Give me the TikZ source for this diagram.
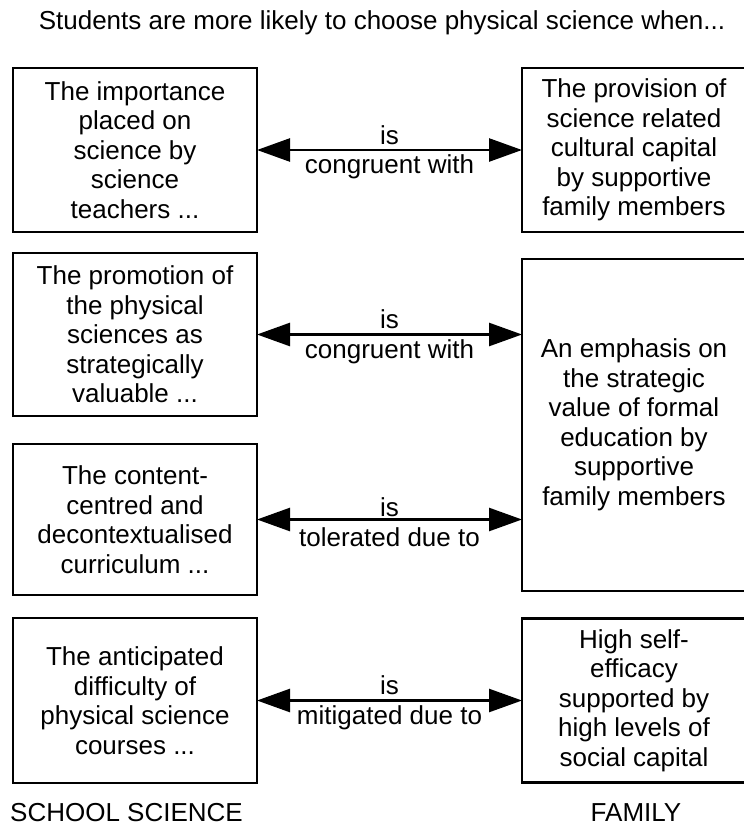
\documentclass[tikz,border=0pt]{standalone}
\usepackage{fontspec}
\setmainfont{Liberation Sans}
\usetikzlibrary{arrows.meta}
\begin{document}
\begin{tikzpicture}[x=1pt,y=-1pt,
  every node/.style={font=\fontsize{26}{29.5}\selectfont, align=center, inner sep=0pt},
  box/.style={draw, line width=2.6pt, anchor=center},
  link/.style={line width=2.6pt, {Triangle[length=33pt,width=23pt]}-{Triangle[length=33pt,width=23pt]}, shorten <=-1.3pt, shorten >=-1.3pt},
  rel/.style={align=center, yshift=-2.5pt}
]
\useasboundingbox (0,0) rectangle (744,827);

% title
\node (title) at (382,23) {Students are more likely to choose physical science when...};

% school science column
\node[box, minimum width=244pt, minimum height=164pt] (L1) at (135,150)
  {The importance\\placed on\\science by\\science\\teachers ...};
\node[box, minimum width=244pt, minimum height=163pt] (L2) at (135,334.5)
  {The promotion of\\the physical\\sciences as\\strategically\\valuable ...};
\node[box, minimum width=244pt, minimum height=151pt] (L3) at (135,519.5)
  {The content-\\centred and\\decontextualised\\curriculum ...};
\node[box, minimum width=244pt, minimum height=165pt] (L4) at (135,700.5)
  {The anticipated\\difficulty of\\physical science\\courses ...};

% family column
\node[box, minimum width=224pt, minimum height=164pt] (R1) at (634,150)
  {The provision of\\science related\\cultural capital\\by supportive\\family members};
\node[box, minimum width=224pt, minimum height=332pt] (R2) at (634,425)
  {An emphasis on\\the strategic\\value of formal\\education by\\supportive\\family members};
\node[box, minimum width=224pt, minimum height=164pt] (R4) at (634,700.5)
  {High self-\\efficacy\\supported by\\high levels of\\social capital};

% connectors
\draw[link] (L1.east) -- (R1.west)
  node[midway, rel] (c1) {is\\congruent with};
\draw[link] (L2.east) -- (L2.east -| R2.west)
  node[midway, rel] (c2) {is\\congruent with};
\draw[link] (L3.east) -- (L3.east -| R2.west)
  node[midway, rel] (c3) {is\\tolerated due to};
\draw[link] (L4.east) -- (R4.west)
  node[midway, rel] (c4) {is\\mitigated due to};

% column labels
\node[anchor=base] (school) at (126.5,821) {SCHOOL SCIENCE};
\node[anchor=base] (family) at (636,821) {FAMILY};
\end{tikzpicture}
\end{document}
